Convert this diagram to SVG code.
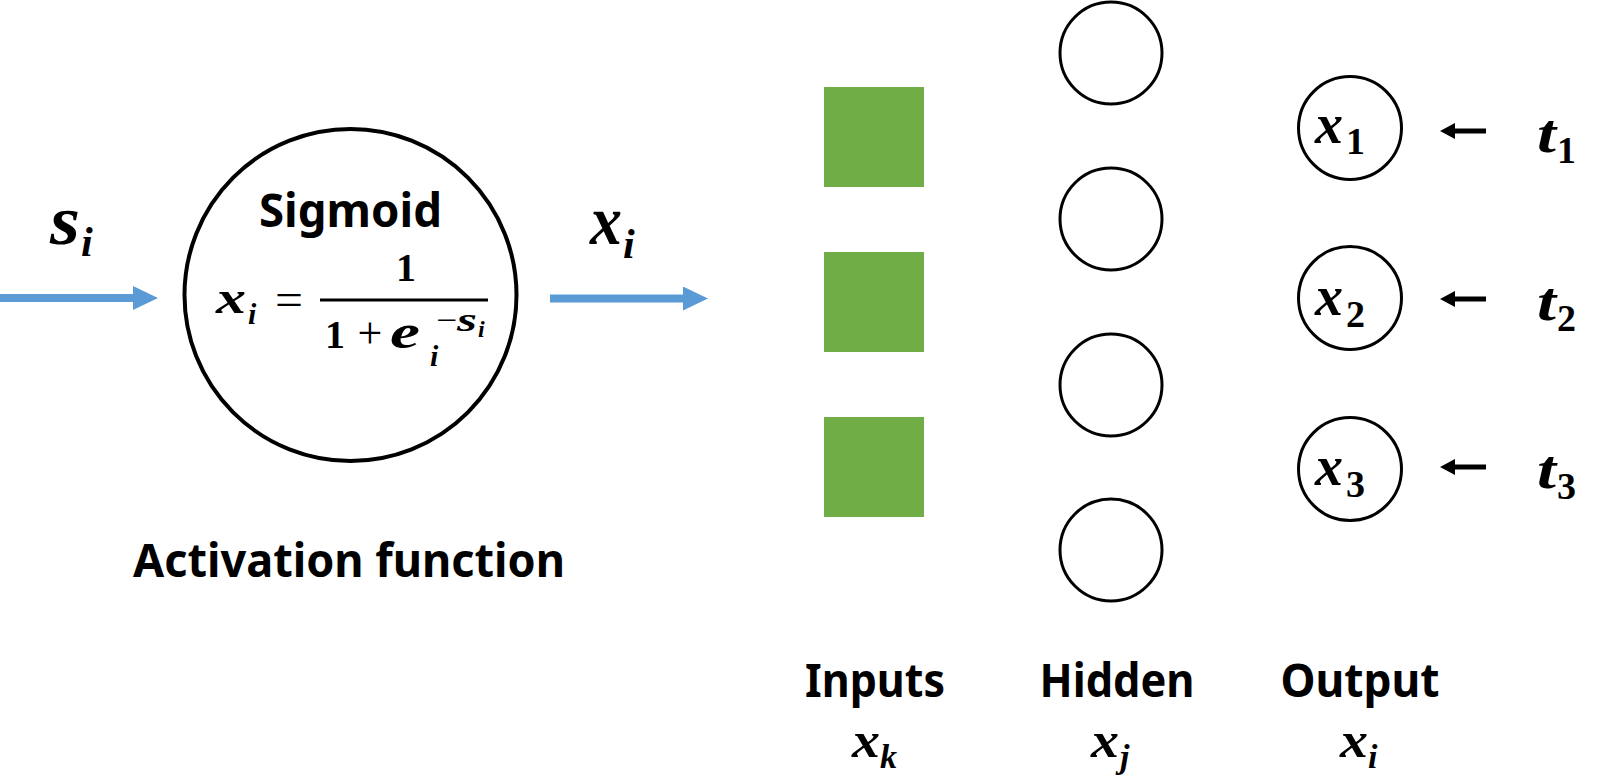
<svg xmlns="http://www.w3.org/2000/svg" width="1600" height="779" viewBox="0 0 1600 779">
  <style>
    .lbl { font-family: "Noto Sans", "Open Sans", "Liberation Sans", sans-serif; font-weight: bold; font-size: 47px; fill: #000; }
    .m { font-family: "Liberation Serif", "DejaVu Serif", serif; font-weight: bold; font-style: italic; fill: #000; }
    .n { font-family: "Liberation Serif", "DejaVu Serif", serif; font-weight: bold; fill: #000; }
    .o { font-family: "Liberation Serif", "DejaVu Serif", serif; font-weight: normal; fill: #000; }
    .ring { fill: #fff; stroke: #000; stroke-width: 3; }
    .sq { fill: #70AD47; }
    .blue { stroke: #5B9BD5; stroke-width: 8; fill: none; }
    .black { stroke: #000; stroke-width: 5; fill: none; }
  </style>
  <defs>
    <marker id="bh" markerUnits="userSpaceOnUse" markerWidth="25" markerHeight="24" refX="2" refY="12" orient="auto">
      <path d="M0,0 L25,12 L0,24 Z" fill="#5B9BD5"/>
    </marker>
    <marker id="kh" markerUnits="userSpaceOnUse" markerWidth="15" markerHeight="16" refX="1" refY="8" orient="auto">
      <path d="M0,0 L15,8 L0,16 Z" fill="#000"/>
    </marker>
  </defs>
  <rect width="1600" height="779" fill="#fff"/>

  <g id="activation">
    <circle cx="350.5" cy="295" r="166" fill="#fff" stroke="#000" stroke-width="4"/>
    <text class="lbl" x="350.5" y="227" text-anchor="middle" textLength="183" lengthAdjust="spacingAndGlyphs">Sigmoid</text>
    <text class="m" x="216" y="313" font-size="46" textLength="30" lengthAdjust="spacingAndGlyphs">x</text>
    <text class="m" x="248" y="324" font-size="30">i</text>
    <text class="o" x="289" y="315" font-size="46" text-anchor="middle" textLength="28" lengthAdjust="spacingAndGlyphs">=</text>
    <line x1="320" y1="300" x2="488" y2="300" stroke="#000" stroke-width="3"/>
    <text class="n" x="406" y="281" font-size="40" text-anchor="middle">1</text>
    <text class="n" x="335" y="348" font-size="40" text-anchor="middle">1</text>
    <text class="o" x="370" y="348" font-size="44" text-anchor="middle">+</text>
    <text class="m" x="390" y="348" font-size="48" textLength="30" lengthAdjust="spacingAndGlyphs">e</text>
    <text class="m" x="430" y="366" font-size="30">i</text>
    <text class="o" x="436" y="331" font-size="32" textLength="21" lengthAdjust="spacingAndGlyphs">−</text>
    <text class="m" x="457" y="331" font-size="34" textLength="20" lengthAdjust="spacingAndGlyphs">s</text>
    <text class="m" x="478" y="337" font-size="24">i</text>
    <text class="lbl" x="349" y="577" text-anchor="middle" textLength="432" lengthAdjust="spacingAndGlyphs">Activation function</text>
  </g>

  <g id="label-si">
    <text class="m" x="50" y="244" font-size="70" textLength="30" lengthAdjust="spacingAndGlyphs">s</text>
    <text class="m" x="81" y="256" font-size="42">i</text>
  </g>
  <g id="label-xi">
    <text class="m" x="590" y="244" font-size="70" textLength="32" lengthAdjust="spacingAndGlyphs">x</text>
    <text class="m" x="623" y="258" font-size="42">i</text>
  </g>

  <g id="inputs">
    <rect class="sq" x="824" y="87" width="100" height="100"/>
    <rect class="sq" x="824" y="252" width="100" height="100"/>
    <rect class="sq" x="824" y="417" width="100" height="100"/>
    <text class="lbl" x="875" y="697" text-anchor="middle" textLength="140" lengthAdjust="spacingAndGlyphs">Inputs</text>
    <text class="m" x="852" y="757" font-size="50" textLength="28" lengthAdjust="spacingAndGlyphs">x</text>
    <text class="m" x="880" y="768" font-size="34">k</text>
  </g>

  <g id="hidden">
    <circle class="ring" cx="1111" cy="53" r="51"/>
    <circle class="ring" cx="1111" cy="219" r="51"/>
    <circle class="ring" cx="1111" cy="385" r="51"/>
    <circle class="ring" cx="1111" cy="550" r="51"/>
    <text class="lbl" x="1117" y="697" text-anchor="middle" textLength="155" lengthAdjust="spacingAndGlyphs">Hidden</text>
    <text class="m" x="1091" y="757" font-size="50" textLength="28" lengthAdjust="spacingAndGlyphs">x</text>
    <text class="m" x="1120" y="768" font-size="34">j</text>
  </g>

  <g id="output">
    <circle class="ring" cx="1350" cy="128" r="51.5"/>
    <circle class="ring" cx="1350" cy="298" r="51.5"/>
    <circle class="ring" cx="1350" cy="469" r="51.5"/>
    <text class="m" x="1315" y="143" font-size="56" textLength="28" lengthAdjust="spacingAndGlyphs">x</text>
    <text class="n" x="1346" y="154" font-size="38">1</text>
    <text class="m" x="1315" y="315" font-size="56" textLength="28" lengthAdjust="spacingAndGlyphs">x</text>
    <text class="n" x="1346" y="327" font-size="38">2</text>
    <text class="m" x="1315" y="485" font-size="56" textLength="28" lengthAdjust="spacingAndGlyphs">x</text>
    <text class="n" x="1346" y="497" font-size="38">3</text>
    <text class="lbl" x="1360" y="697" text-anchor="middle" textLength="159" lengthAdjust="spacingAndGlyphs">Output</text>
    <text class="m" x="1340" y="757" font-size="50" textLength="28" lengthAdjust="spacingAndGlyphs">x</text>
    <text class="m" x="1368" y="768" font-size="34">i</text>
  </g>

  <g id="targets">
    <text class="m" x="1537" y="152" font-size="54" textLength="19" lengthAdjust="spacingAndGlyphs">t</text>
    <text class="n" x="1557" y="163" font-size="38">1</text>
    <text class="m" x="1537" y="320" font-size="54" textLength="19" lengthAdjust="spacingAndGlyphs">t</text>
    <text class="n" x="1557" y="331" font-size="38">2</text>
    <text class="m" x="1537" y="488" font-size="54" textLength="19" lengthAdjust="spacingAndGlyphs">t</text>
    <text class="n" x="1557" y="499" font-size="38">3</text>
  </g>

  <g id="connectors">
    <line class="blue" x1="0" y1="298" x2="135" y2="298" marker-end="url(#bh)"/>
    <line class="blue" x1="550" y1="298.5" x2="685" y2="298.5" marker-end="url(#bh)"/>
    <line class="black" x1="1486" y1="131" x2="1454" y2="131" marker-end="url(#kh)"/>
    <line class="black" x1="1486" y1="299" x2="1454" y2="299" marker-end="url(#kh)"/>
    <line class="black" x1="1486" y1="467" x2="1454" y2="467" marker-end="url(#kh)"/>
  </g>
</svg>
